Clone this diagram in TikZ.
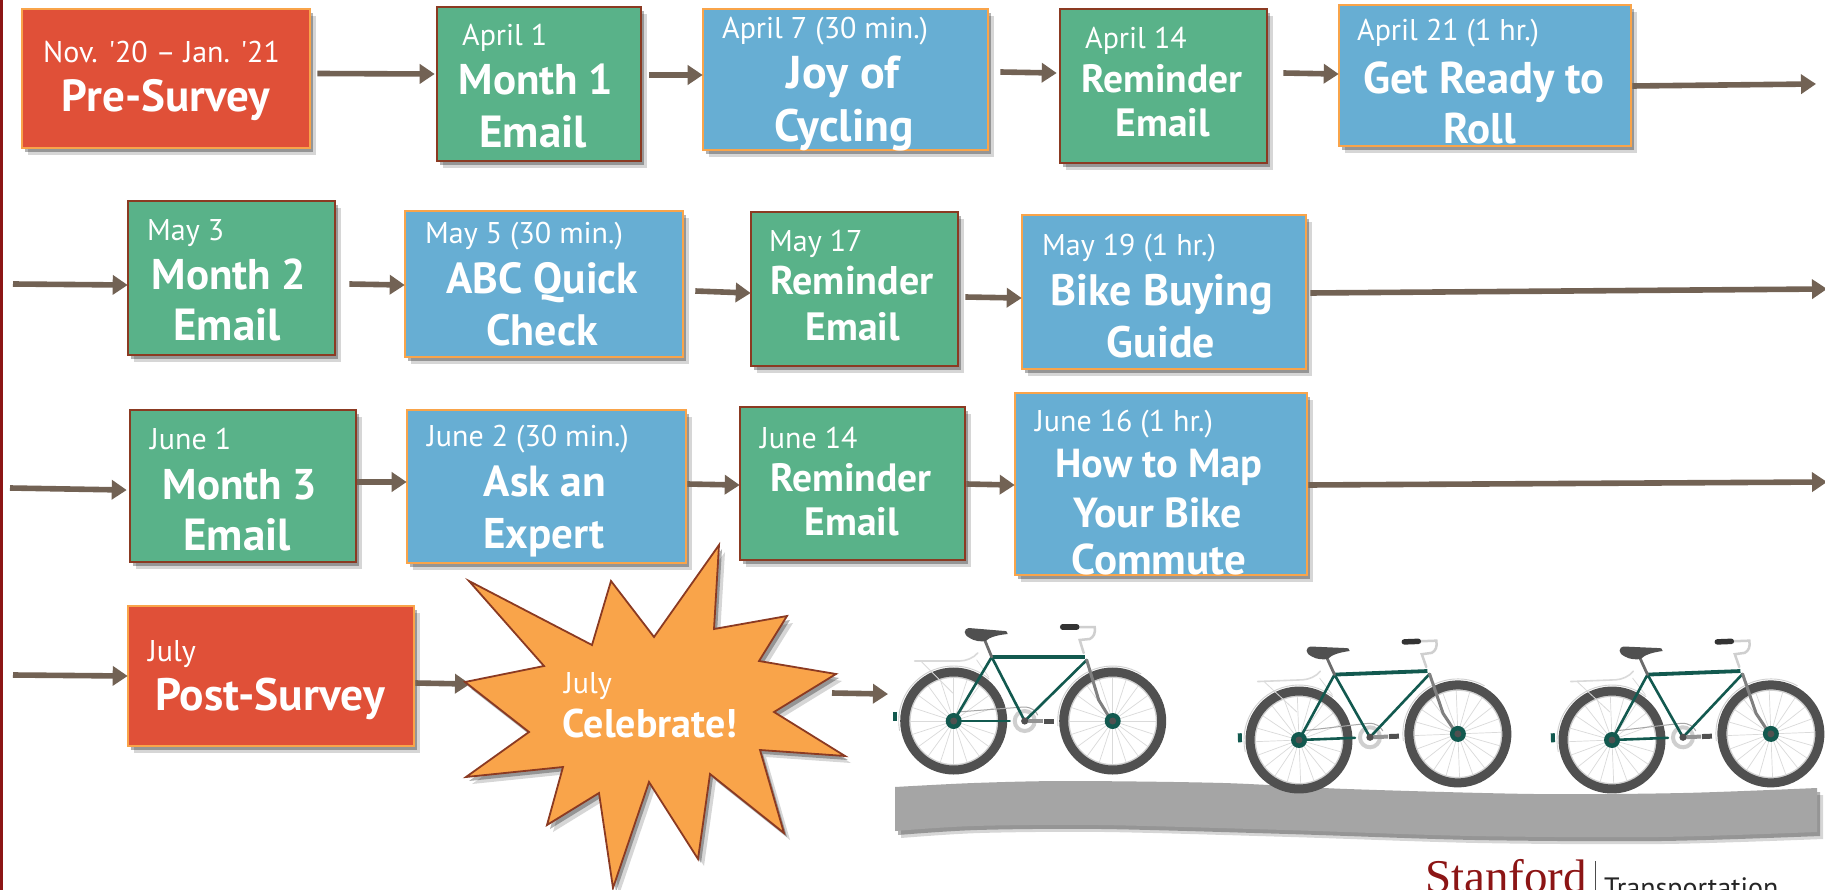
\documentclass[tikz,border=0pt]{standalone}
\usepackage{fontspec}
\setmainfont{PT Sans}
\newfontfamily\plainsans{PT Sans}
\newfontfamily\stanfordfont{Liberation Serif}
\usetikzlibrary{arrows.meta,shadows,calc}
\definecolor{cred}{HTML}{E05038}
\definecolor{cgreen}{HTML}{59B289}
\definecolor{cblue}{HTML}{67AED3}
\definecolor{corange}{HTML}{F9A44A}
\definecolor{cbrown}{HTML}{8B3A22}
\definecolor{carrow}{HTML}{726254}
\definecolor{cbar}{HTML}{8C1515}
\definecolor{cframe}{HTML}{12594F}
\definecolor{ctire}{HTML}{505050}
\definecolor{cspoke}{HTML}{DADADA}
\definecolor{crim}{HTML}{CFCFCF}
\definecolor{croad}{HTML}{A5A5A5}
\tikzset{
  softshadow/.style={drop shadow={shadow xshift=3pt,shadow yshift=-4pt,fill=black,opacity=.3},
                     drop shadow={shadow xshift=6pt,shadow yshift=-7pt,fill=black,opacity=.16}},
  boxbase/.style={rectangle,line width=2.6pt,inner sep=0pt,softshadow},
  redbox/.style={boxbase,fill=cred,draw=corange},
  greenbox/.style={boxbase,fill=cgreen,draw=cbrown},
  bluebox/.style={boxbase,fill=cblue,draw=corange},
  datetext/.style={anchor=base west,inner sep=0pt,text=white,yshift=-1pt,font=\plainsans\fontsize{30}{30}\selectfont},
  titletext/.style={anchor=base,inner sep=0pt,text=white,yshift=-2pt},
  arr/.style={draw=carrow,line width=5.6pt,shorten >=-2pt,-{Triangle[length=15pt,width=19pt]}},
}
\newcommand{\pbox}[6]{\pgfmathsetmacro{\pw}{#5-#3}\pgfmathsetmacro{\ph}{#6-#4}%
  \node[#2,minimum width=\pw pt,minimum height=\ph pt] (#1) at ({(#3+#5)/2},{(#4+#6)/2}) {};}
\newcommand{\dlabel}[4]{\node[datetext] (#1) at (#2,#3) {#4};}
\newcommand{\tlabel}[5]{\node[titletext,font=\fontsize{#5}{#5}\selectfont\bfseries] (#1) at (#2,#3) {#4};}
\newcommand{\bikeat}[3]{%
\begin{scope}[shift={(#1,#2)},rotate=#3,line cap=round]
  % fenders
  \draw[crim,line width=.9pt] (0,0)+(50:55pt) arc[start angle=50,end angle=190,radius=55pt];
  \draw[crim,line width=.9pt] (159,0)+(59:55pt) arc[start angle=59,end angle=185,radius=55pt];
  % spokes
  \foreach \c in {0,159}{
    \foreach \a in {0,18,...,342}{\draw[cspoke,line width=.7pt] (\c,0)+(\a:6pt) -- +(\a:43pt);}
    \draw[crim,line width=1.8pt] (\c,0) circle[radius=44pt];
    \draw[ctire,line width=9pt] (\c,0) circle[radius=49pt];
  }
  % rack
  \draw[cspoke,line width=1.6pt] (-39,-60) -- (6,-60) .. controls (12,-60) and (20,-63) .. (24,-68);
  \draw[cspoke,line width=.8pt] (-32,-59) -- (-1,-28) (23,-61) -- (35,-44);
  % chain and chainring
  \draw[gray!70,line width=1pt] (4,-9) -- (43,-12) -- (70,-14) .. controls (78,-14) and (82,-10) .. (84,-6);
  \draw[crim,line width=4pt,line cap=butt] (71,0) circle[radius=10pt];
  % frame
  \draw[cframe,line width=2.6pt] (0,0) -- (38,-64) -- (71,0) -- (133,-61);
  \draw[cframe,line width=2.6pt] (0,0) -- (56,0);
  \draw[cframe,line width=3.8pt,line cap=butt] (38,-64) -- (131,-64);
  \draw[cframe,line width=4pt,line cap=butt] (-59,-9) -- (-59,0);
  % seat post and seat
  \draw[gray!85!black,line width=2.8pt] (38,-64) -- (31,-81);
  \fill[ctire] (11,-89) .. controls (12,-85) and (14,-84) .. (16,-83) .. controls (20,-80) and (28,-79) .. (32,-80)
     .. controls (36,-84) and (44,-86) .. (54,-87) .. controls (54,-90) and (52,-90) .. (51,-90)
     -- (15,-93) .. controls (13,-93) and (11,-91) .. (11,-89) -- cycle;
  % handlebar and fork
  \draw[crim,line width=2.5pt] (125,-94) -- (141,-94) .. controls (142,-88) and (140,-84) .. (136,-82)
     -- (126,-81) -- (130,-68);
  \draw[black!80,line width=5.5pt] (109,-94) -- (123,-94);
  \draw[gray,line width=3pt] (133,-61) -- (145,-21) -- (156,-3);
  % pedal
  \draw[gray!85,line width=4pt,line cap=butt] (74,0) -- (89,0);
  \draw[ctire,line width=5pt,line cap=butt] (90,0) -- (100,0);
  % hubs
  \foreach \c in {0,159}{
    \fill[cframe] (\c,0) circle[radius=8pt];
    \fill[ctire] (\c,0) circle[radius=3.5pt];
  }
  \fill[ctire] (71,0) circle[radius=3.6pt];
\end{scope}}
\begin{document}
\begin{tikzpicture}[x=1pt,y=-1pt]
\useasboundingbox (0,0) rectangle (1825,890);
\clip (0,0) rectangle (1825,890);
\fill[white] (0,0) rectangle (1825,890);
\fill[cbar] (0,0) rectangle (3,890);

% free ends
\coordinate (e1) at (1814,84);
\coordinate (s2) at (13,284);
\coordinate (e2) at (1825,289);
\coordinate (s3) at (10,488);
\coordinate (e3) at (1825,482);
\coordinate (s4) at (13,675);
\coordinate (starw) at (468,684);
\coordinate (stare) at (832,693);
\coordinate (bikew) at (886,694);

% boxes
\pbox{pre}{redbox}{22}{9}{310}{148}
\pbox{m1}{greenbox}{437}{7}{641}{161}
\pbox{joy}{bluebox}{703}{9}{988}{150}
\pbox{rem1}{greenbox}{1060}{9}{1267}{163}
\pbox{ready}{bluebox}{1339}{5}{1631}{146}
\pbox{m2}{greenbox}{128}{201}{335}{355}
\pbox{abc}{bluebox}{405}{211}{683}{357}
\pbox{rem2}{greenbox}{751}{212}{958}{366}
\pbox{buy}{bluebox}{1022}{215}{1306}{369}
\pbox{m3}{greenbox}{130}{410}{356}{562}
\pbox{ask}{bluebox}{407}{410}{686}{563}
\pbox{rem3}{greenbox}{740}{407}{965}{560}
\pbox{map}{bluebox}{1015}{393}{1307}{575}
\pbox{post}{redbox}{128}{606}{414}{746}

% connectors
\draw[arr] ($(pre.east)+(6,-5)$) -- ($(m1.west)+(-3,-10)$);
\draw[arr] ($(m1.east)+(7,-9)$) -- ($(joy.west)+(-1,-4.5)$);
\draw[arr] ($(joy.east)+(11,-7.5)$) -- ($(rem1.west)+(-4,-13)$);
\draw[arr] ($(rem1.east)+(15,-13)$) -- ($(ready.west)+(-1,-1.5)$);
\draw[arr] ($(ready.east)+(0,10.5)$) -- (e1);
\draw[arr] (s2) -- ($(m2.west)+(-1,7)$);
\draw[arr] ($(m2.east)+(13,6)$) -- ($(abc.west)+(-1,1)$);
\draw[arr] ($(abc.east)+(11,7)$) -- ($(rem2.west)+(-1,4)$);
\draw[arr] ($(rem2.east)+(6,8)$) -- ($(buy.west)+(-1,6)$);
\draw[arr] ($(buy.east)+(3,1)$) -- (e2);
\draw[arr] (s3) -- ($(m3.west)+(-4,4)$);
\draw[arr] ($(m3.east)+(0,-4)$) -- ($(ask.west)+(-1,-4.5)$);
\draw[arr] ($(ask.east)+(0,-2.5)$) -- ($(rem3.west)+(-1,1.5)$);
\draw[arr] ($(rem3.east)+(0,.5)$) -- ($(map.west)+(-1,1)$);
\draw[arr] ($(map.east)+(0,1)$) -- (e3);
\draw[arr] (s4) -- ($(post.west)+(-1,0)$);
\draw[arr] ($(post.east)+(0,7)$) -- (starw);
\draw[arr] (stare) -- (bikew);

% starburst
\draw[fill=corange,draw=cbrown,line width=1.8pt,line join=miter,softshadow]
 (469,581) -- (592,645) -- (611,581) -- (654,637) -- (719,545) -- (714,629) -- (787,616)
 -- (759,661) -- (836,674) -- (774,712) -- (845,756) -- (760,750) -- (784,833) -- (710,774)
 -- (698,859) -- (649,782) -- (613,888) -- (599,793) -- (547,825) -- (563,767) -- (466,777)
 -- (529,732) -- (465,682) -- (544,666) -- cycle;

% texts
\dlabel{d1}{43}{62}{Nov. '20 – Jan. '21}
\tlabel{t1}{166}{110}{Pre-Survey}{45}
\dlabel{d2}{462}{45}{April 1}
\tlabel{t2}{536}{93}{Month 1}{43}
\tlabel{t2b}{533}{146}{Email}{45}
\dlabel{d3}{722}{38}{April 7 (30 min.)}
\tlabel{t3}{843}{87}{Joy of}{46}
\tlabel{t3b}{844}{140}{Cycling}{45.5}
\dlabel{d4}{1085}{48}{April 14}
\tlabel{t4}{1162}{91}{Reminder}{39.5}
\tlabel{t4b}{1163}{135}{Email}{39.5}
\dlabel{d5}{1357}{40}{April 21 (1 hr.)}
\tlabel{t5}{1484}{92}{Get Ready to}{44.5}
\tlabel{t5b}{1480}{142}{Roll}{43}
\dlabel{d6}{147}{240}{May 3}
\tlabel{t6}{229}{288}{Month 2}{43}
\tlabel{t6b}{227}{339}{Email}{45}
\dlabel{d7}{425}{243}{May 5 (30 min.)}
\tlabel{t7}{542}{292}{ABC Quick}{43.5}
\tlabel{t7b}{542}{343}{Check}{44}
\dlabel{d8}{769}{251}{May 17}
\tlabel{t8}{852}{293}{Reminder}{40}
\tlabel{t8b}{853}{339}{Email}{39.5}
\dlabel{d9}{1042}{255}{May 19 (1 hr.)}
\tlabel{t9}{1162}{304}{Bike Buying}{44}
\tlabel{t9b}{1161}{355}{Guide}{44}
\dlabel{d10}{150}{448}{June 1}
\tlabel{t10}{240}{497}{Month 3}{43}
\tlabel{t10b}{237}{548}{Email}{45}
\dlabel{d11}{427}{445}{June 2 (30 min.)}
\tlabel{t11}{545}{494}{Ask an}{43.5}
\tlabel{t11b}{544}{546}{Expert}{43}
\dlabel{d12}{760}{447}{June 14}
\tlabel{t12}{851}{489}{Reminder}{39.5}
\tlabel{t12b}{852}{533}{Email}{39.5}
\dlabel{d13}{1035}{430}{June 16 (1 hr.)}
\tlabel{t13}{1159}{475}{How to Map}{40.5}
\tlabel{t13b}{1158}{525}{Your Bike}{42}
\tlabel{t13c}{1159}{572}{Commute}{43}
\dlabel{d14}{148}{660}{July}
\tlabel{t14}{270}{708}{Post-Survey}{45.5}
\dlabel{d15}{564}{692}{July}
\tlabel{t15}{650}{735}{Celebrate!}{40}

% road
\fill[croad,softshadow] (895,787) -- plot[smooth] coordinates {(895,787) (974,783) (1068,781) (1223,783) (1347,789) (1534,794) (1683,793) (1817,788)}
  -- (1817,832) -- plot[smooth] coordinates {(1817,832) (1658,837) (1472,836) (1285,830) (1099,825) (974,826) (895,831)} -- cycle;

% bikes
\bikeat{953.7}{721}{0}
\bikeat{1299}{740}{2.2}
\bikeat{1612}{740}{2.2}

% logo
\node[anchor=base west,inner sep=0pt,text=cbar,font=\stanfordfont\fontsize{47}{47}\selectfont] (logo) at (1425,892) {Stanford};
\coordinate (ruletop) at (1595,861);
\coordinate (rulebot) at (1595,890);
\draw[black!70,line width=.8pt] (ruletop) -- (rulebot);
\node[anchor=base west,inner sep=0pt,text=black!85,font=\fontsize{28}{28}\selectfont] (trans) at (1604,897) {Transportation};
\end{tikzpicture}
\end{document}
